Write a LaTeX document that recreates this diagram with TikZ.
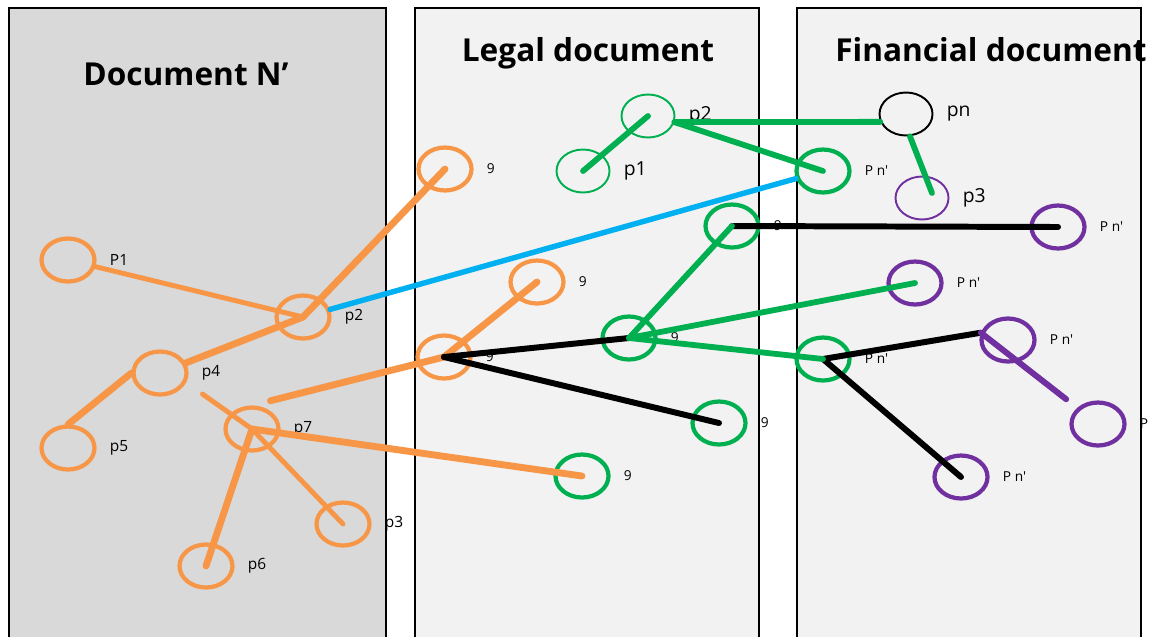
\documentclass[tikz,border=0pt]{standalone}
\usepackage{fontspec}
\setmainfont{Open Sans}
\usepackage{tikz}
\usetikzlibrary{shapes.geometric}

\definecolor{orng}{RGB}{247,150,70}
\definecolor{grn}{RGB}{0,176,80}
\definecolor{purp}{RGB}{112,48,160}
\definecolor{cyn}{RGB}{0,176,240}
\definecolor{paneldark}{RGB}{217,217,217}
\definecolor{panellight}{RGB}{242,242,242}

\begin{document}
\begin{tikzpicture}[x=0.02cm,y=-0.02cm,
  line cap=round,label distance=0.26cm,
  every label/.style={inner sep=0pt,text=black,font=\fontsize{7.8}{9}\selectfont},
  mid/.style={font=\fontsize{8.8}{10}\selectfont},
  big/.style={font=\fontsize{11}{13}\selectfont},
  title/.style={font=\bfseries\fontsize{18}{21}\selectfont,inner sep=0pt,anchor=base},
  pt/.style={ellipse,draw,minimum width=1.06cm,minimum height=0.86cm,inner sep=0pt,line width=2.4pt},
  thinpt/.style={pt,line width=1.1pt},
  oline/.style={draw=orng,line width=3.9pt},
  oline2/.style={draw=orng,line width=2.8pt},
  gline/.style={draw=grn,line width=3.3pt},
  kline/.style={draw=black,line width=3.4pt},
  bline/.style={draw=cyn,line width=3.1pt},
  vline/.style={draw=purp,line width=3.4pt}]

  \useasboundingbox (0,0) rectangle (1151,637);

  % panels
  \fill[paneldark] (9,8) rectangle (386,637);
  \fill[panellight] (415,8) rectangle (759,637);
  \fill[panellight] (797,8) rectangle (1141,637);
  \draw[line width=1.1pt,line cap=butt] (9,637) |- (386,8) -- (386,637);
  \draw[line width=1.1pt,line cap=butt] (415,637) |- (759,8) -- (759,637);
  \draw[line width=1.1pt,line cap=butt] (797,637) |- (1141,8) -- (1141,637);

  \node[title] (T1) at (186,85) {Document N’};
  \node[title] (T2) at (588,61) {Legal document};
  \node[title] (T3) at (991,61) {Financial document};

  % Document N'
  \node[pt,orng,label={[mid]right:P1}] (N1) at (68,260) {};
  \node[pt,orng,label={[mid]right:p2}] (N2) at (303,317) {};
  \node[pt,orng,label={[mid]right:p4}] (N4) at (160,373) {};
  \node[pt,orng,label={[mid]right:p5}] (N5) at (68,448) {};
  \node[pt,orng,label={[mid]right:p7}] (N7) at (252,429) {};
  \node[pt,orng,label={[mid]right:p3}] (N3) at (343,524) {};
  \node[pt,orng,label={[mid]right:p6}] (N6) at (206,566) {};

  % Legal document
  \node[thinpt,grn,label={[big]right:p1}] (L1) at (583,171) {};
  \node[thinpt,grn,label={[big]right:p2}] (L2) at (648,116) {};
  \node[pt,orng,label={right:9}] (L3) at (445,169) {};
  \node[pt,orng,label={right:9}] (L4) at (537,282) {};
  \node[pt,orng,label={right:9}] (L5) at (444,357) {};
  \node[pt,grn,label={right:9}] (L6) at (732,226) {};
  \node[pt,grn,label={right:9}] (L7) at (629,338) {};
  \node[pt,grn,label={right:9}] (L8) at (719,423) {};
  \node[pt,grn,label={right:9}] (L9) at (582,476) {};

  % Financial document
  \node[thinpt,black,label={[big]right:pn}] (F1) at (906,114) {};
  \node[pt,grn,label={right:P n\textquotesingle}] (F2) at (823,171) {};
  \node[thinpt,purp,label={[big]right:p3}] (F3) at (922,198) {};
  \node[pt,purp,label={right:P n\textquotesingle}] (F4) at (1058,227) {};
  \node[pt,purp,label={right:P n\textquotesingle}] (F5) at (915,283) {};
  \node[pt,grn,label={right:P n\textquotesingle}] (F6) at (823,359) {};
  \node[pt,purp,label={right:P n\textquotesingle}] (F7) at (1008,340) {};
  \node[pt,purp,label={right:P}] (F8) at (1098,424) {};
  \node[pt,purp,label={right:P n\textquotesingle}] (F9) at (961,477) {};

  \path
    (N1) edge[oline2] (N2.center)
    (N2.center) edge[oline] (L3.center)
    (N2.center) edge[oline] (N4)
    (N4.west) edge[oline] (N5.north)
    (N4.-20) edge[oline2,shorten <=0.4cm] (N7.center)
    (N7.center) edge[oline2] (N3.center)
    (N7.center) edge[oline] (N6.center)
    (N7.north) edge[oline,shorten <=0.38cm] (L5.center)
    (N7.center) edge[oline] (L9.center)
    (L5.center) edge[oline] (L4.center);

  \path (N2) edge[bline] (F2);

  \path
    (L5.center) edge[kline] (L7.center)
    (L5.center) edge[kline] (L8.center)
    (L6.center) edge[kline] (F4.center)
    (F6.center) edge[kline] (F7.165)
    (F6.center) edge[kline] (F9.center);

  \path
    (L1.center) edge[gline] (L2.center)
    (L2.-13) edge[gline] (F1.-163)
    (L2.-13) edge[gline] (F2.center)
    (F1.-80) edge[gline] ([shift={(10,-5)}]F3.center)
    (L6.center) edge[gline] (L7.center)
    (L7.center) edge[gline] (F5.center)
    (L7.center) edge[gline] (F6.center);

  \path (F7.165) edge[vline,shorten >=0.28cm] (F8);

\end{tikzpicture}
\end{document}
